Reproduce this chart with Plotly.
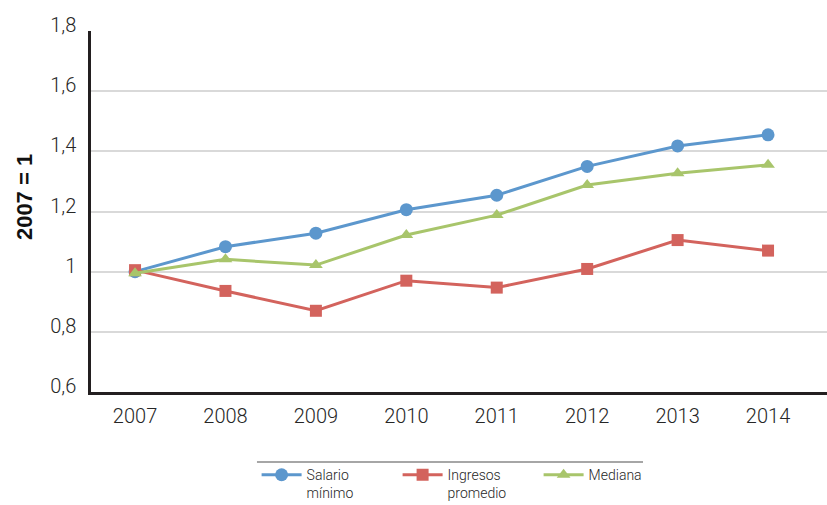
import plotly.graph_objects as go

years = ["2007", "2008", "2009", "2010", "2011", "2012", "2013", "2014"]
salario_minimo = [1.0, 1.083, 1.128, 1.206, 1.254, 1.35, 1.418, 1.455]
ingresos_promedio = [1.005, 0.936, 0.87, 0.97, 0.947, 1.009, 1.105, 1.07]
mediana = [0.995, 1.041, 1.022, 1.122, 1.188, 1.288, 1.327, 1.355]

y_ticks = [0.6, 0.8, 1.0, 1.2, 1.4, 1.6, 1.8]
y_tick_labels = ["0,6", "0,8", "1", "1,2", "1,4", "1,6", "1,8"]

FONT = "Roboto"
TEXT = "#262626"

fig = go.Figure()

series = [
    ("Salario<br>mínimo", salario_minimo, "#5C97CD", "circle", 13),
    ("Ingresos<br>promedio", ingresos_promedio, "#D3635D", "square", 12),
    ("Mediana", mediana, "#A8C56B", "triangle-up", 12),
]
for name, vals, color, symbol, size in series:
    fig.add_trace(go.Scatter(
        x=years, y=vals, name=name, mode="lines+markers",
        line=dict(color=color, width=3),
        marker=dict(symbol=symbol, size=size, color=color, line=dict(width=0)),
    ))

# thin rule above the legend
fig.add_shape(type="line", xref="paper", yref="paper",
              x0=0.2255, x1=0.75, y0=-0.194, y1=-0.194,
              line=dict(color="#A6A6A6", width=2))

# rotated y-axis title
fig.add_annotation(text="<b>2007 = 1</b>", xref="paper", yref="paper",
                   x=-0.091, y=0.54, xanchor="center", yanchor="middle",
                   textangle=-90, showarrow=False,
                   font=dict(family="Liberation Sans", size=22, color="#111111"))

fig.update_layout(
    width=827, height=505,
    margin=dict(l=91, r=0, t=31, b=113, autoexpand=False),
    paper_bgcolor="white", plot_bgcolor="white",
    font=dict(family=FONT, size=19, color=TEXT, weight=300),
    showlegend=True,
    legend=dict(orientation="h", x=0.225, y=-0.186, xanchor="left", yanchor="top",
                font=dict(family=FONT, size=14, color=TEXT, weight=300),
                valign="top", itemwidth=40, entrywidth=86,
                traceorder="normal", bgcolor="rgba(0,0,0,0)"),
    xaxis=dict(
        type="category", range=[-0.487, 7.652],
        showgrid=False, showline=True, linecolor="#231F20", linewidth=2.5,
        ticks="", ticklabelstandoff=4, zeroline=False,
        tickfont=dict(family=FONT, size=20, color=TEXT, weight=300),
    ),
    yaxis=dict(
        range=[0.6, 1.8], tickvals=y_ticks, ticktext=y_tick_labels,
        showgrid=True, gridcolor="#D9D9D9", gridwidth=1.5,
        showline=True, linecolor="#231F20", linewidth=2.5,
        ticks="", ticklabelstandoff=8, ticklabelshift=-6, zeroline=False,
        tickfont=dict(family=FONT, size=20, color=TEXT, weight=300),
    ),
)

fig.write_html("out.html")
